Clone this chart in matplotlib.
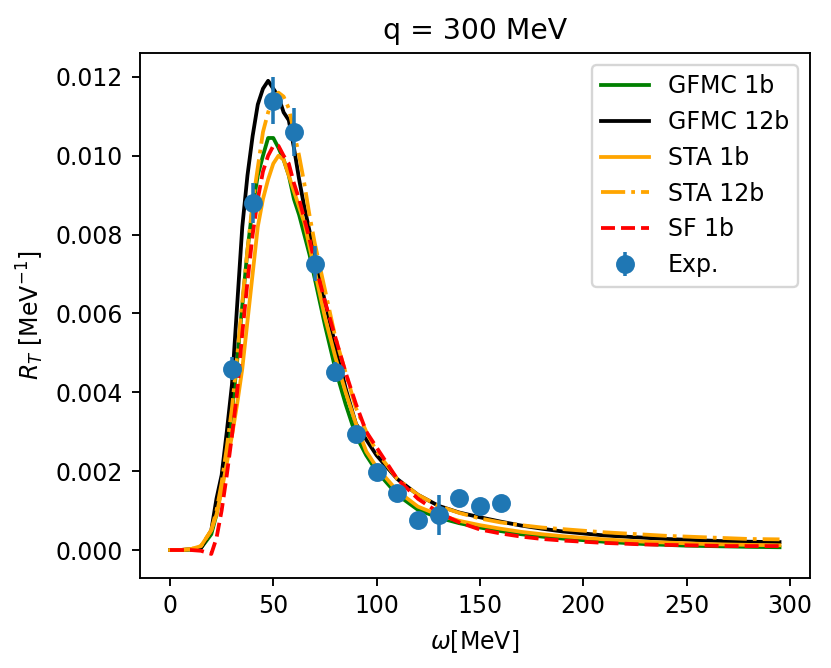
import matplotlib
matplotlib.use("Agg")
import matplotlib.pyplot as plt

omega = [0, 5, 10, 15, 20, 22.5, 25, 27.5, 30, 32.5, 35, 37.5, 40, 42.5, 45, 47.5,
         50, 52.5, 55, 57.5, 60, 62.5, 65, 67.5, 70, 75, 80, 85, 90, 95, 100,
         110, 120, 130, 140, 150, 160, 170, 180, 190, 200, 210, 220, 230, 240,
         250, 260, 270, 280, 295]

gfmc_1b = [0, 0, 0.00001, 0.00005, 0.0004, 0.0009, 0.0016, 0.0025, 0.0035, 0.0048,
           0.0062, 0.0076, 0.0087, 0.0095, 0.0100, 0.01045, 0.01045, 0.0102, 0.0099,
           0.0095, 0.0089, 0.0085, 0.0080, 0.0075, 0.0069, 0.0057, 0.0046, 0.0037,
           0.0029, 0.0024, 0.0020, 0.0014, 0.00102, 0.00082, 0.00068, 0.00057,
           0.00048, 0.00040, 0.00034, 0.00029, 0.00025, 0.00021, 0.00018, 0.00015,
           0.00013, 0.00011, 0.00010, 0.00009, 0.00008, 0.00007]

gfmc_12b = [0, 0, 0.00002, 0.00005, 0.0005, 0.0013, 0.0019, 0.0030, 0.0042, 0.0062,
            0.0082, 0.0095, 0.0105, 0.0113, 0.0117, 0.0119, 0.0117, 0.0115, 0.0111,
            0.0109, 0.0102, 0.0094, 0.0087, 0.0081, 0.0074, 0.0063, 0.0052, 0.0041,
            0.0032, 0.0028, 0.0024, 0.0018, 0.0014, 0.00112, 0.00095, 0.00083,
            0.00072, 0.00062, 0.00054, 0.00047, 0.00042, 0.00037, 0.00034, 0.00031,
            0.00028, 0.00026, 0.00024, 0.00022, 0.00021, 0.00020]

sta_1b = [0, 0, 0.00002, 0.0001, 0.0005, 0.0009, 0.0015, 0.0022, 0.0029, 0.0037,
          0.0046, 0.0058, 0.0070, 0.0082, 0.0089, 0.0094, 0.0098, 0.0100, 0.0099,
          0.0095, 0.0091, 0.0087, 0.0083, 0.0077, 0.0071, 0.0059, 0.0049, 0.0040,
          0.0032, 0.0025, 0.0021, 0.0015, 0.0011, 0.00089, 0.00074, 0.00063,
          0.00054, 0.00046, 0.00040, 0.00035, 0.00031, 0.00027, 0.00024, 0.00021,
          0.00019, 0.00017, 0.00015, 0.00014, 0.00013, 0.00012]

sta_12b = [0, 0, 0.00002, 0.0001, 0.0005, 0.0010, 0.0017, 0.0026, 0.0036, 0.0049,
           0.0063, 0.0076, 0.0088, 0.0097, 0.0106, 0.0111, 0.0115, 0.0116, 0.0115,
           0.0112, 0.0106, 0.0100, 0.0093, 0.0085, 0.0078, 0.0066, 0.0054, 0.0045,
           0.0036, 0.0030, 0.0025, 0.0018, 0.0014, 0.00112, 0.00094, 0.00080,
           0.00070, 0.00063, 0.00057, 0.00053, 0.00049, 0.00045, 0.00042, 0.00039,
           0.00036, 0.00034, 0.00032, 0.00030, 0.00028, 0.00027]

sf_1b = [0, 0, 0, -0.00002, -0.0001, 0.0003, 0.0010, 0.0019, 0.0029, 0.0040,
         0.0055, 0.0068, 0.0080, 0.0089, 0.0096, 0.0100, 0.01025, 0.01025, 0.0100,
         0.0098, 0.0093, 0.0089, 0.0084, 0.0079, 0.0073, 0.0063, 0.0054, 0.0045,
         0.0037, 0.0030, 0.0026, 0.0018, 0.0013, 0.00095, 0.00070, 0.00052,
         0.00042, 0.00034, 0.00028, 0.00024, 0.00021, 0.00018, 0.00016, 0.00014,
         0.00013, 0.00012, 0.00011, 0.00010, 0.00010, 0.00010]

exp_omega = [30, 40, 50, 60, 70, 80, 90, 100, 110, 120, 130, 140, 150, 160]
exp_rt = [0.0046, 0.0088, 0.0114, 0.0106, 0.00726, 0.00451, 0.00294, 0.00199,
          0.00144, 0.00076, 0.00089, 0.00131, 0.00112, 0.00119]
exp_err = [0.0003, 0.0005, 0.0006, 0.0006, 0.00045, 0.00025, 0.0001, 0.0001,
           0.0001, 0.0001, 0.0005, 0.0001, 0.0001, 0.0001]

DPI = 170
fig = plt.figure(figsize=(831 / DPI, 668 / DPI), dpi=DPI)
ax = fig.add_axes([139.5 / 831, 1 - 577.8 / 668, (810 - 139.5) / 831, (577.8 - 53) / 668])

LW = 1.6
ax.plot(omega, gfmc_1b, color="green", lw=LW, label="GFMC 1b")
ax.plot(omega, gfmc_12b, color="black", lw=LW, label="GFMC 12b")
ax.plot(omega, sta_1b, color="orange", lw=LW, label="STA 1b")
ax.plot(omega, sta_12b, color="orange", lw=LW, ls="-.", label="STA 12b")
ax.plot(omega, sf_1b, color="red", lw=LW, ls="--", label="SF 1b")
ax.errorbar(exp_omega, exp_rt, yerr=exp_err, fmt="o", color="C0", ms=7, label="Exp.")

ax.set_xlim(-14.75, 309.75)
ax.set_ylim(-0.000705, 0.012605)
ax.set_xticks([0, 50, 100, 150, 200, 250, 300])
ax.set_yticks([0, 0.002, 0.004, 0.006, 0.008, 0.010, 0.012])
ax.set_yticklabels(["0.000", "0.002", "0.004", "0.006", "0.008", "0.010", "0.012"])
ax.set_xlabel(r"$\omega$[MeV]")
ax.set_ylabel(r"$R_T$ [MeV$^{-1}$]")
ax.set_title("q = 300 MeV", fontsize=12)
ax.legend(loc="upper right")

fig.savefig("out.png", dpi=DPI)
